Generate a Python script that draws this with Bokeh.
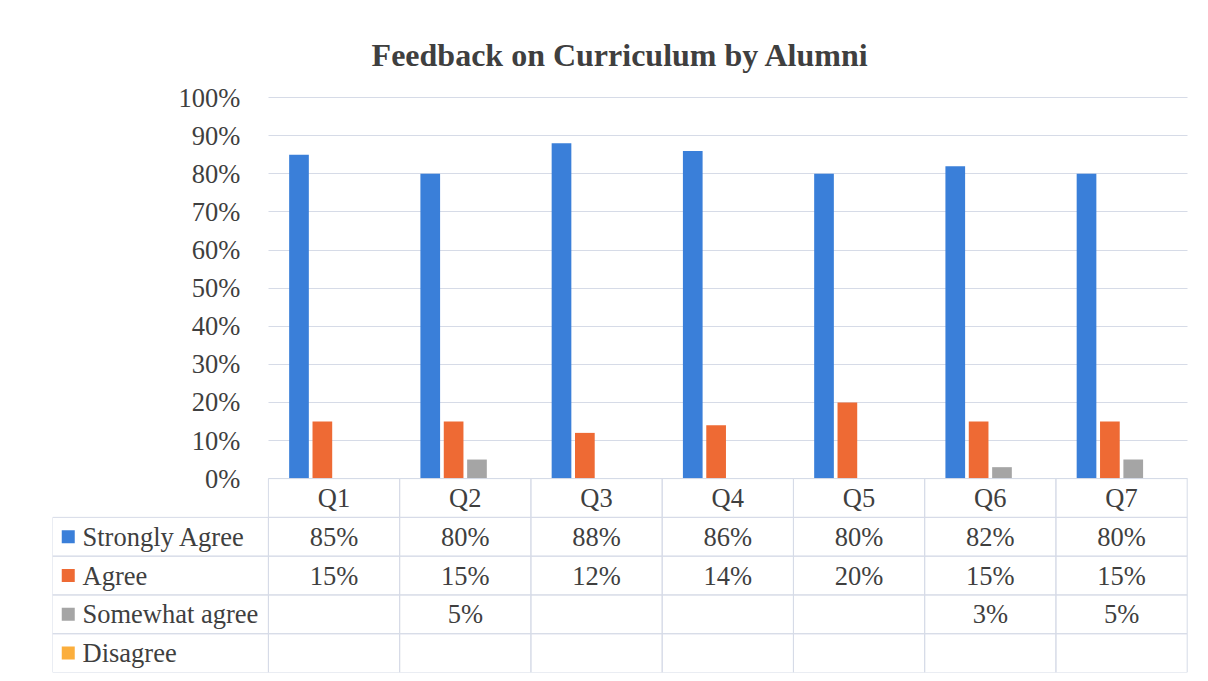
from bokeh.plotting import figure
from bokeh.models import (ColumnDataSource, Range1d, FixedTicker, NumeralTickFormatter,
                          Title, LinearAxis, Grid)
from bokeh.core.properties import value
from bokeh.embed import file_html
from bokeh.resources import INLINE

# ---------------- data ----------------
questions = ["Q1", "Q2", "Q3", "Q4", "Q5", "Q6", "Q7"]
series_names = ["Strongly Agree", "Agree", "Somewhat agree", "Disagree"]
strongly_agree = [85, 80, 88, 86, 80, 82, 80]
agree = [15, 15, 12, 14, 20, 15, 15]
somewhat_agree = [None, 5, None, None, None, 3, 5]
disagree = [None, None, None, None, None, None, None]
y_ticks = [0, 10, 20, 30, 40, 50, 60, 70, 80, 90, 100]
title_text = "Feedback on Curriculum by Alumni"

# ---------------- styles ----------------
colors = ["#3A7FD9", "#EE6A34", "#A5A5A5", "#FBAE3C"]
offsets = [-0.267, -0.089, 0.089, 0.267]
BAR_W = 0.15
FONT = "Liberation Serif"
TXT = "#3F3F3F"
GRID = "#D6DBE7"
LEG = 1.645      # width of the legend column, in category units
ROW = 0.1018     # table row height, in value units (1.0 = 100%)
TOP_PAD = 0.045  # room above 100% so its label is not clipped
NQ = len(questions)
NS = len(series_names)

series = [strongly_agree, agree, somewhat_agree, disagree]

p = figure(width=1204, height=677,
           x_range=Range1d(-LEG, NQ + 0.01),
           y_range=Range1d(-(NS + 1) * ROW, 1.0 + TOP_PAD),
           output_backend="svg", toolbar_location=None,
           x_axis_location=None, y_axis_location=None,
           min_border_left=52, min_border_right=16, min_border_top=80, min_border_bottom=5)
p.title = Title(text=title_text, text_font=FONT, text_font_size="32px",
                text_font_style="bold", text_color=TXT, align="center", offset=0,
                standoff=16)
p.outline_line_color = None
p.background_fill_color = "white"
p.grid.visible = False

# y axis placed at the left edge of the question columns
yax = LinearAxis(fixed_location=0,
                 ticker=FixedTicker(ticks=[v / 100 for v in y_ticks]),
                 formatter=NumeralTickFormatter(format="0%"))
yax.axis_line_color = None
yax.major_tick_line_color = None
yax.minor_tick_line_color = None
yax.major_label_text_font = FONT
yax.major_label_text_font_size = "26.5px"
yax.major_label_text_color = TXT
yax.major_label_standoff = 22
p.add_layout(yax, "left")

g = Grid(dimension=1, ticker=yax.ticker, grid_line_color=GRID, grid_line_width=1,
         cross_bounds=(0, NQ))
p.add_layout(g)

# bars
for name, vals, col, off in zip(series_names, series, colors, offsets):
    src = ColumnDataSource(dict(x=[i + 0.5 + off for i in range(NQ)],
                                v=[(v or 0) / 100 for v in vals]))
    p.vbar(x="x", top="v", width=BAR_W, bottom=0, source=src,
           fill_color=col, line_color=None)

# ---------------- data table ----------------
left, right, bottom, top = [], [], [], []
for i in range(NQ):
    left.append(i); right.append(i + 1); bottom.append(-ROW); top.append(0)
for r in range(NS):
    b = -(r + 2) * ROW
    left.append(-LEG); right.append(0); bottom.append(b); top.append(b + ROW)
    for i in range(NQ):
        left.append(i); right.append(i + 1); bottom.append(b); top.append(b + ROW)
p.quad(left=left, right=right, bottom=bottom, top=top, fill_color=None,
       line_color=GRID, line_width=1)

tx, ty, tt = [], [], []
for i, q in enumerate(questions):
    tx.append(i + 0.5); ty.append(-0.5 * ROW); tt.append(q)
for r, vals in enumerate(series):
    for i, v in enumerate(vals):
        if v is not None:
            tx.append(i + 0.5); ty.append(-(r + 1.5) * ROW); tt.append(f"{v}%")
p.text(x=tx, y=ty, text=tt, text_font=value(FONT), text_font_size="26.5px",
       text_color=TXT, text_align="center", text_baseline="middle")

leg_src = ColumnDataSource(dict(x=[-LEG] * NS,
                                xs=[-LEG + 0.12] * NS,
                                y=[-(r + 1.5) * ROW for r in range(NS)],
                                name=series_names, color=colors))
p.scatter(x="xs", y="y", marker="square", size=13, source=leg_src,
          fill_color="color", line_color=None)
p.text(x="x", y="y", text="name", x_offset=30, source=leg_src,
       text_font=value(FONT), text_font_size="26.5px", text_color=TXT,
       text_align="left", text_baseline="middle")

open("out.html", "w").write(file_html(p, INLINE))
